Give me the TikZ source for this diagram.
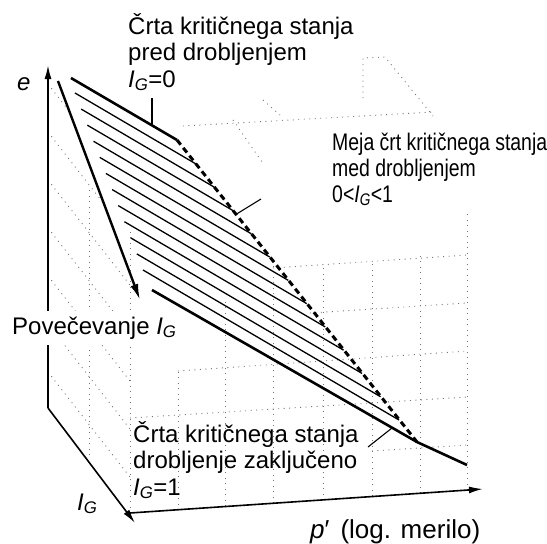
\documentclass[tikz,border=0pt]{standalone}
\usepackage{fontspec}
\setmainfont{Liberation Sans}
\usetikzlibrary{arrows.meta,calc}
\newcommand\myIG{\textit{I}\textsubscript{\textit{G}}}
\newcommand\mynarrow[1]{\scalebox{0.81}[1]{#1}}
\begin{document}
\begin{tikzpicture}[x=1pt,y=-1pt,
  grid/.style={black!55, line width=0.9pt, dash pattern=on 0.9pt off 4.6pt},
  axis/.style={line width=1.8pt, -{Latex[length=14pt,width=7pt]}},
  csl/.style={line width=2.6pt},
  hatch/.style={line width=1.3pt},
  bound/.style={line width=3pt, dash pattern=on 6pt off 4pt},
  leader/.style={line width=1.1pt},
  lab/.style={inner sep=0pt, anchor=base west, font=\fontsize{24}{27}\selectfont}]
\useasboundingbox (0,0) rectangle (547,544);
% ---------- dotted grid ----------
% front / right wall
\draw[grid] (130,513)--(130,232);
\draw[grid] (178,510)--(178,370);
\draw[grid] (225,506)--(225,300);
\draw[grid] (273,503)--(273,263);
\draw[grid] (323,500)--(323,266);
\draw[grid] (372,496)--(372,262);
\draw[grid] (420,493)--(420,255);
\draw[grid] (467,490)--(467,212);
\draw[grid] (273,268)--(467,255);
\draw[grid] (310,313)--(467,303);
\draw[grid] (178,371)--(467,351);
\draw[grid] (130,418)--(467,397);
\draw[grid] (372,451)--(467,445);
% left wall
\draw[grid] (48,372)--(130,477);
\draw[grid] (48,324)--(130,429);
\draw[grid] (48,276)--(130,381);
\draw[grid] (48,228)--(130,333);
\draw[grid] (48,180)--(130,285);
\draw[grid] (48,132)--(104,204);
\draw[grid] (48,84)--(69,111);
\draw[grid] (89,190)--(89,455);
% top
\draw[grid] (183,126)--(433,112);
\draw[grid] (363,98)--(363,58)--(385,57)--(433,116);
\draw[grid] (233,120)--(262,162);
\draw[grid] (263,100)--(280,115);
% ---------- coordinates ----------
\coordinate (O) at (48,408);
\coordinate (Etip) at (48,65);
\coordinate (Gtip) at (135,523);
\coordinate (P0) at (130,513);
\coordinate (Ptip) at (483,489);
\coordinate (A0) at (71,78);
\coordinate (A1) at (177,140);
\coordinate (B0) at (152,290);
\coordinate (B1) at (417,442);
\coordinate (B2) at (467,465);
\coordinate (S0) at (75,93);
\coordinate (S1) at (143,270);
\coordinate (E0) at (196,164);
\coordinate (E1) at (399,420);
\coordinate (R0) at (58,81);
\coordinate (R1) at (140,300);
% ---------- hatching ----------
\foreach \i in {0,...,11}{
  \pgfmathsetmacro\tt{\i/11}
  \draw[hatch] ($(S0)!\tt!(S1)$) -- ($(E0)!\tt!(E1)$);
}
% ---------- main lines ----------
\draw[csl] (A0) -- (A1);
\draw[bound] (A1) -- (B1);
\draw[csl] (B0) -- (B1) -- (B2);
\draw[line width=2.4pt, -{Latex[length=16pt,width=8pt]}] (R0) -- (R1);
% axes
\draw[axis] (O) -- (Etip);
\draw[line width=1.6pt, -{Latex[length=14pt,width=7pt]}] (O) -- (Gtip);
\draw[line width=1.6pt, -{Latex[length=14pt,width=7pt]}] (P0) -- (Ptip);
% leaders
\coordinate (L1a) at (152,98); \coordinate (L1b) at (152,124);
\coordinate (L2a) at (261,199); \coordinate (L2b) at (235,215);
\coordinate (L3a) at (368,447); \coordinate (L3b) at (392,428);
\draw[leader] (L1a) -- (L1b);
\draw[leader] (L2a) -- (L2b);
\draw[leader] (L3a) -- (L3b);
% ---------- texts ----------
\node[lab] (tA1) at (128,34) {Črta kritičnega stanja};
\node[lab] (tA2) at (128,60) {pred drobljenjem};
\node[lab] (tA3) at (128,87) {\myIG=0};
\node[lab] (tB1) at (332,150) {\mynarrow{Meja črt kritičnega stanja}};
\node[lab] (tB2) at (332,176) {\mynarrow{med drobljenjem}};
\node[lab] (tB3) at (332,202) {\mynarrow{0<\myIG<1}};
\node[lab] (tC1) at (133,442) {Črta kritičnega stanja};
\node[lab] (tC2) at (133,468) {drobljenje zaključeno};
\node[lab] (tC3) at (133,495) {\myIG=1};
\node[lab, fill=white, inner xsep=2pt, inner ysep=6pt] (tInc) at (10,334) {Povečevanje \myIG};
\node[lab] (te) at (17,90) {\textit{e}};
\node[lab] (tIG) at (77,510) {\myIG};
\node[lab, font=\fontsize{26}{29}\selectfont] (tp) at (310,538) {\textit{p}′\hspace{11pt}(log. merilo)};
\end{tikzpicture}
\end{document}
